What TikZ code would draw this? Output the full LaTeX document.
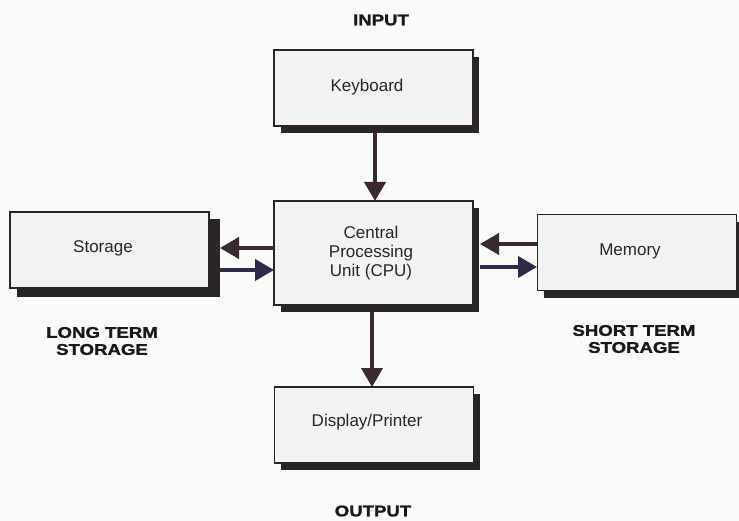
\documentclass[tikz,border=0pt]{standalone}
\usepackage{fontspec}
\setmainfont{Liberation Sans}
\newfontfamily\capfont[FakeStretch=1.2,FakeBold=1.5]{Liberation Sans Bold}
\usetikzlibrary{arrows.meta}
\definecolor{bg}{HTML}{FAFAF8}
\definecolor{boxfill}{HTML}{F2F2F0}
\definecolor{shadowcol}{HTML}{2B2424}
\definecolor{arrA}{HTML}{3A2A2E}
\definecolor{arrB}{HTML}{2E2A48}
\tikzset{
  unitbox/.style={draw=shadowcol, line width=1.3pt, fill=boxfill, minimum width=199pt, minimum height=76pt, inner sep=0pt, align=center, text=black!85},
  boxtext/.style={font=\fontsize{17}{19}\selectfont, text=black!85, align=center},
  flow/.style={line width=4pt, -{Triangle[length=19pt,width=21pt]}},
  caption/.style={font=\capfont\fontsize{15.5}{17}\selectfont, align=center, text=black!90}
}
\begin{document}
\begin{tikzpicture}[x=1pt,y=-1pt]
\useasboundingbox (0,0) rectangle (739,521);
\fill[bg] (0,0) rectangle (739,521);
% shadows
\fill[shadowcol] (281,57) rectangle (479,133);
\fill[shadowcol] (281,208) rectangle (479,312);
\fill[shadowcol] (281,394) rectangle (480,470);
\fill[shadowcol] (17,219) rectangle (220,297);
\fill[shadowcol] (544,222) rectangle (739,298);
% boxes
\node[unitbox] (kbd) at (373.5,88) {};
\node[unitbox, minimum height=104pt] (cpu) at (373.5,253) {};
\node[unitbox] (disp) at (374,425) {};
\node[unitbox] (stor) at (109.5,250) {};
\node[unitbox] (mem) at (637,252.5) {};
% box texts
\node[boxtext] (kbdT) at (367,87) {Keyboard};
\node[boxtext] (cpuT) at (371,253) {Central\\Processing\\Unit (CPU)};
\node[boxtext] (dispT) at (367,422) {Display/Printer};
\node[boxtext] (storT) at (103,248) {Storage};
\node[boxtext] (memT) at (630,251) {Memory};
% captions
\node[caption] (in) at (381,20) {INPUT};
\node[caption] (out) at (373,511) {OUTPUT};
\node[caption] (lts) at (102,341) {LONG TERM\\STORAGE};
\node[caption] (sts) at (634,339) {SHORT TERM\\STORAGE};
% connector anchor points
\coordinate (kbdS) at (375,133);
\coordinate (cpuN) at (375,201);
\coordinate (cpuS) at (372,312);
\coordinate (dispN) at (372,387);
\coordinate (cpuWa) at (274,248);
\coordinate (storEa) at (220,248);
\coordinate (storEb) at (220,270);
\coordinate (cpuWb) at (274,270);
\coordinate (memWa) at (537,244);
\coordinate (cpuEa) at (480,244);
\coordinate (cpuEb) at (480,267);
\coordinate (memWb) at (537,267);
% arrows
\draw[flow, color=arrA] (kbdS) -- (cpuN);
\draw[flow, color=arrA] (cpuS) -- (dispN);
\draw[flow, color=arrA] (cpuWa) -- (storEa);
\draw[flow, color=arrB] (storEb) -- (cpuWb);
\draw[flow, color=arrA] (memWa) -- (cpuEa);
\draw[flow, color=arrB] (cpuEb) -- (memWb);
\end{tikzpicture}
\end{document}
